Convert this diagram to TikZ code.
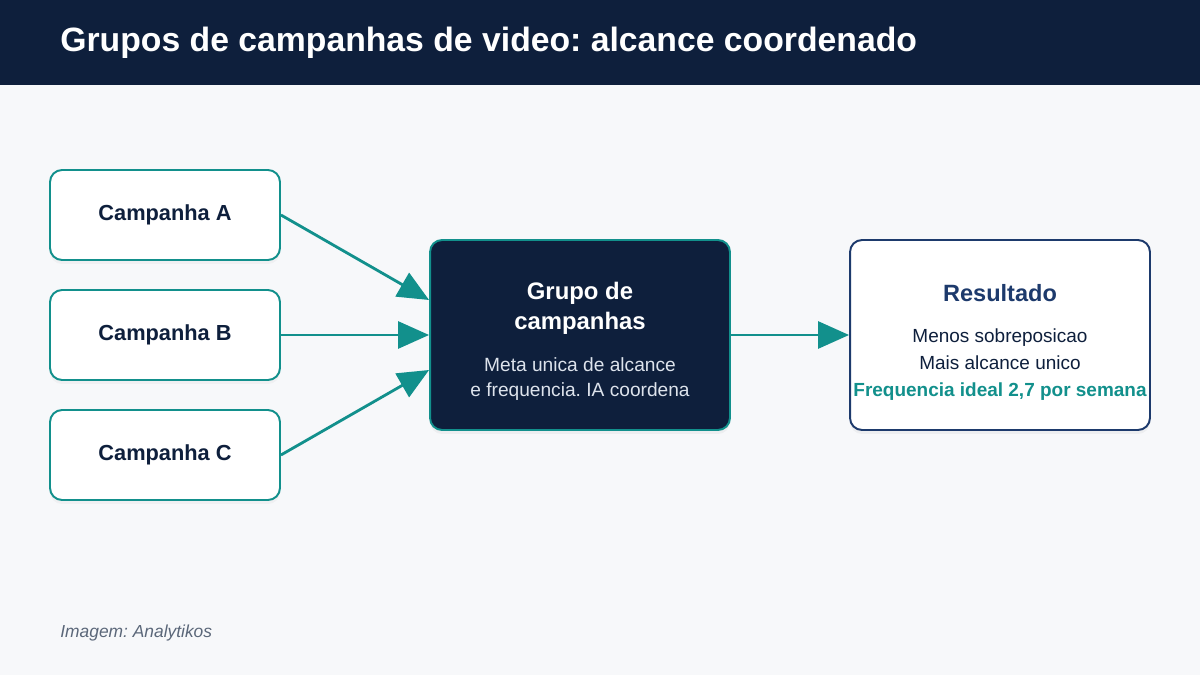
\documentclass[tikz,border=0pt]{standalone}
\usepackage{fontspec}
\setmainfont{Liberation Sans}
\usetikzlibrary{arrows.meta, positioning, shadows}
\definecolor{HeaderNavy}{HTML}{0E1F3C}
\definecolor{PageGray}{HTML}{F7F8FA}
\definecolor{FlowTeal}{HTML}{12908C}
\definecolor{ResultBlue}{HTML}{1D3A6C}
\definecolor{NoteGray}{HTML}{5B6779}
\definecolor{SubText}{HTML}{DDE3EC}
\frenchspacing

\begin{document}
\begin{tikzpicture}[x=0.02cm, y=-0.02cm,
  every node/.style={align=center, inner sep=0pt},
  campbox/.style={draw=FlowTeal, line width=1.1pt, fill=white, rounded corners=0.24cm, minimum width=4.6cm, minimum height=1.8cm, font=\fontsize{12.4}{14}\selectfont\bfseries, text=HeaderNavy, drop shadow={opacity=0.06, shadow xshift=0cm, shadow yshift=-0.08cm}},
  bigbox/.style={line width=1.1pt, rounded corners=0.24cm, minimum width=6cm, minimum height=3.8cm, drop shadow={opacity=0.08, shadow xshift=0cm, shadow yshift=-0.08cm}},
  arrow/.style={draw=FlowTeal, line width=1.6pt, -{Triangle[length=0.62cm, width=0.54cm]}}]
\useasboundingbox (0,0) rectangle (1200,675);
\fill[PageGray] (0,0) rectangle (1200,675);
\fill[HeaderNavy] (0,0) rectangle (1200,85);
\node[anchor=west, text=white, font=\fontsize{19.2}{22}\selectfont\bfseries] (title) at (60,43) {Grupos de campanhas de video: alcance coordenado};

\node[campbox] (campa) at (165,215) {Campanha A};
\node[campbox] (campb) at (165,335) {Campanha B};
\node[campbox] (campc) at (165,455) {Campanha C};

\node[bigbox, draw=FlowTeal, fill=HeaderNavy] (grupo) at (580,335) {};
\node[text=white, font=\fontsize{13.6}{17}\selectfont\bfseries] (grptitle) at (580,308) {Grupo de\\campanhas};
\node[text=SubText, font=\fontsize{10.9}{14.2}\selectfont] (grptext) at (580,379) {Meta unica de alcance\\e frequencia. IA coordena};

\node[bigbox, draw=ResultBlue, fill=white] (result) at (1000,335) {};
\node[text=ResultBlue, font=\fontsize{13.4}{15}\selectfont\bfseries] (restitle) at (1000,293) {Resultado};
\node[text=HeaderNavy, font=\fontsize{10.8}{15.5}\selectfont] (reslines) at (1000,349) {Menos sobreposicao\\Mais alcance unico};
\node[text=FlowTeal, font=\fontsize{10.8}{12}\selectfont\bfseries] (resfreq) at (1000,392) {Frequencia ideal 2,7 por semana};

\draw[arrow] (campa.east) -- ([yshift=0.7cm]grupo.west);
\draw[arrow] (campb.east) -- (grupo.west);
\draw[arrow] (campc.east) -- ([yshift=-0.7cm]grupo.west);
\draw[arrow] (grupo.east) -- (result.west);

\node[anchor=west, text=NoteGray, font=\fontsize{9.9}{11}\selectfont\itshape] (credit) at (60,633) {Imagem: Analytikos};
\end{tikzpicture}
\end{document}
